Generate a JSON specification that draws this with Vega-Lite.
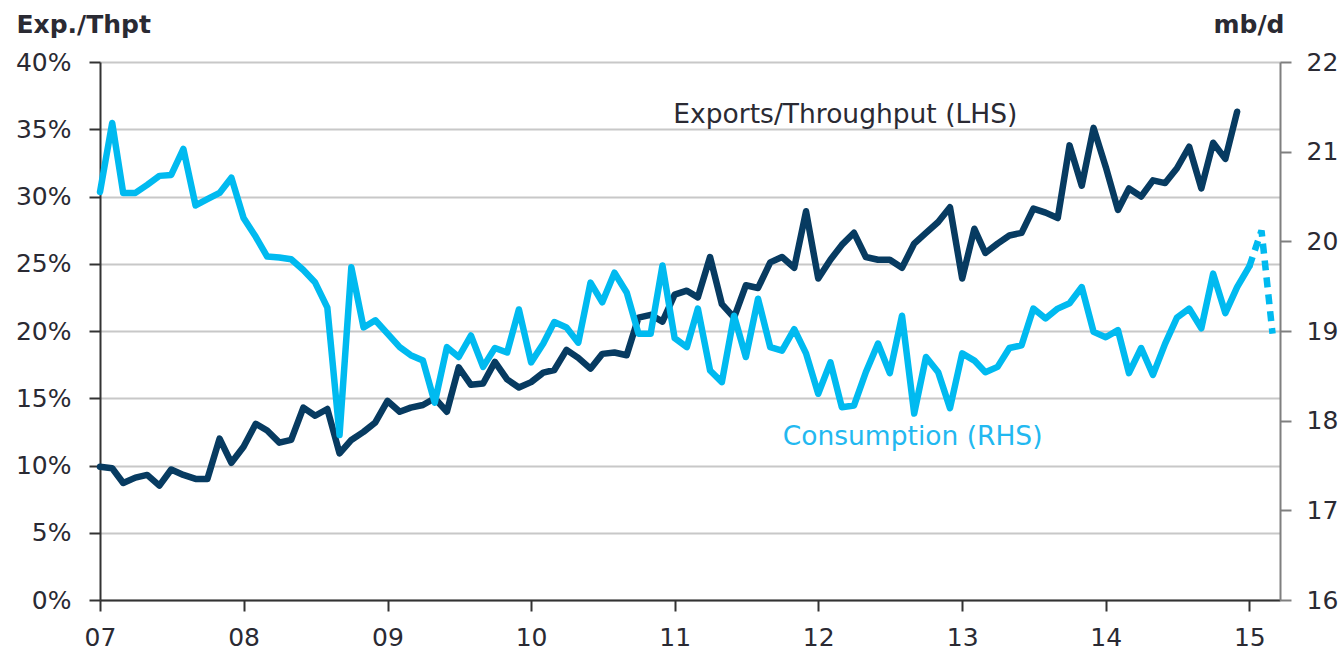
{
  "$schema": "https://vega.github.io/schema/vega-lite/v6.json",
  "width": 1180,
  "height": 538,
  "autosize": "none",
  "padding": {"left": 100, "top": 62, "right": 64, "bottom": 56},
  "background": "white",
  "config": {
    "view": {"stroke": null},
    "font": "DejaVu Sans",
    "axis": {"labelFont": "DejaVu Sans", "titleFont": "DejaVu Sans", "labelFontSize": 25, "labelColor": "#2a2a33", "titleColor": "#2a2a33"}
  },
  "datasets": {
    "exports": [
      {"date": "2007-01-01", "v": 0.099}, {"date": "2007-02-01", "v": 0.098}, {"date": "2007-03-01", "v": 0.087}, {"date": "2007-04-01", "v": 0.091},
      {"date": "2007-05-01", "v": 0.093}, {"date": "2007-06-01", "v": 0.085}, {"date": "2007-07-01", "v": 0.097}, {"date": "2007-08-01", "v": 0.093},
      {"date": "2007-09-01", "v": 0.090}, {"date": "2007-10-01", "v": 0.090}, {"date": "2007-11-01", "v": 0.120}, {"date": "2007-12-01", "v": 0.102},
      {"date": "2008-01-01", "v": 0.114}, {"date": "2008-02-01", "v": 0.131}, {"date": "2008-03-01", "v": 0.126}, {"date": "2008-04-01", "v": 0.117},
      {"date": "2008-05-01", "v": 0.119}, {"date": "2008-06-01", "v": 0.143}, {"date": "2008-07-01", "v": 0.137}, {"date": "2008-08-01", "v": 0.142},
      {"date": "2008-09-01", "v": 0.109}, {"date": "2008-10-01", "v": 0.119}, {"date": "2008-11-01", "v": 0.125}, {"date": "2008-12-01", "v": 0.132},
      {"date": "2009-01-01", "v": 0.148}, {"date": "2009-02-01", "v": 0.140}, {"date": "2009-03-01", "v": 0.143}, {"date": "2009-04-01", "v": 0.145},
      {"date": "2009-05-01", "v": 0.150}, {"date": "2009-06-01", "v": 0.140}, {"date": "2009-07-01", "v": 0.173}, {"date": "2009-08-01", "v": 0.160},
      {"date": "2009-09-01", "v": 0.161}, {"date": "2009-10-01", "v": 0.177}, {"date": "2009-11-01", "v": 0.164}, {"date": "2009-12-01", "v": 0.158},
      {"date": "2010-01-01", "v": 0.162}, {"date": "2010-02-01", "v": 0.169}, {"date": "2010-03-01", "v": 0.171}, {"date": "2010-04-01", "v": 0.186},
      {"date": "2010-05-01", "v": 0.180}, {"date": "2010-06-01", "v": 0.172}, {"date": "2010-07-01", "v": 0.183}, {"date": "2010-08-01", "v": 0.184},
      {"date": "2010-09-01", "v": 0.182}, {"date": "2010-10-01", "v": 0.210}, {"date": "2010-11-01", "v": 0.212}, {"date": "2010-12-01", "v": 0.207},
      {"date": "2011-01-01", "v": 0.227}, {"date": "2011-02-01", "v": 0.230}, {"date": "2011-03-01", "v": 0.225}, {"date": "2011-04-01", "v": 0.255},
      {"date": "2011-05-01", "v": 0.220}, {"date": "2011-06-01", "v": 0.210}, {"date": "2011-07-01", "v": 0.234}, {"date": "2011-08-01", "v": 0.232},
      {"date": "2011-09-01", "v": 0.251}, {"date": "2011-10-01", "v": 0.255}, {"date": "2011-11-01", "v": 0.247}, {"date": "2011-12-01", "v": 0.289},
      {"date": "2012-01-01", "v": 0.239}, {"date": "2012-02-01", "v": 0.253}, {"date": "2012-03-01", "v": 0.264}, {"date": "2012-04-01", "v": 0.273},
      {"date": "2012-05-01", "v": 0.255}, {"date": "2012-06-01", "v": 0.253}, {"date": "2012-07-01", "v": 0.253}, {"date": "2012-08-01", "v": 0.247},
      {"date": "2012-09-01", "v": 0.265}, {"date": "2012-10-01", "v": 0.273}, {"date": "2012-11-01", "v": 0.281}, {"date": "2012-12-01", "v": 0.292},
      {"date": "2013-01-01", "v": 0.239}, {"date": "2013-02-01", "v": 0.276}, {"date": "2013-03-01", "v": 0.258}, {"date": "2013-04-01", "v": 0.265},
      {"date": "2013-05-01", "v": 0.271}, {"date": "2013-06-01", "v": 0.273}, {"date": "2013-07-01", "v": 0.291}, {"date": "2013-08-01", "v": 0.288},
      {"date": "2013-09-01", "v": 0.284}, {"date": "2013-10-01", "v": 0.338}, {"date": "2013-11-01", "v": 0.308}, {"date": "2013-12-01", "v": 0.351},
      {"date": "2014-01-01", "v": 0.322}, {"date": "2014-02-01", "v": 0.290}, {"date": "2014-03-01", "v": 0.306}, {"date": "2014-04-01", "v": 0.300},
      {"date": "2014-05-01", "v": 0.312}, {"date": "2014-06-01", "v": 0.310}, {"date": "2014-07-01", "v": 0.321}, {"date": "2014-08-01", "v": 0.337},
      {"date": "2014-09-01", "v": 0.306}, {"date": "2014-10-01", "v": 0.340}, {"date": "2014-11-01", "v": 0.328}, {"date": "2014-12-01", "v": 0.363}
    ],
    "cons": [
      {"date": "2007-01-01", "c": 20.55, "seg": "a"}, {"date": "2007-02-01", "c": 21.32, "seg": "a"}, {"date": "2007-03-01", "c": 20.54, "seg": "a"}, {"date": "2007-04-01", "c": 20.54, "seg": "a"},
      {"date": "2007-05-01", "c": 20.63, "seg": "a"}, {"date": "2007-06-01", "c": 20.73, "seg": "a"}, {"date": "2007-07-01", "c": 20.74, "seg": "a"}, {"date": "2007-08-01", "c": 21.03, "seg": "a"},
      {"date": "2007-09-01", "c": 20.40, "seg": "a"}, {"date": "2007-10-01", "c": 20.47, "seg": "a"}, {"date": "2007-11-01", "c": 20.54, "seg": "a"}, {"date": "2007-12-01", "c": 20.71, "seg": "a"},
      {"date": "2008-01-01", "c": 20.26, "seg": "a"}, {"date": "2008-02-01", "c": 20.05, "seg": "a"}, {"date": "2008-03-01", "c": 19.83, "seg": "a"}, {"date": "2008-04-01", "c": 19.82, "seg": "a"},
      {"date": "2008-05-01", "c": 19.80, "seg": "a"}, {"date": "2008-06-01", "c": 19.68, "seg": "a"}, {"date": "2008-07-01", "c": 19.54, "seg": "a"}, {"date": "2008-08-01", "c": 19.26, "seg": "a"},
      {"date": "2008-09-01", "c": 17.84, "seg": "a"}, {"date": "2008-10-01", "c": 19.71, "seg": "a"}, {"date": "2008-11-01", "c": 19.04, "seg": "a"}, {"date": "2008-12-01", "c": 19.12, "seg": "a"},
      {"date": "2009-01-01", "c": 18.97, "seg": "a"}, {"date": "2009-02-01", "c": 18.82, "seg": "a"}, {"date": "2009-03-01", "c": 18.73, "seg": "a"}, {"date": "2009-04-01", "c": 18.67, "seg": "a"},
      {"date": "2009-05-01", "c": 18.20, "seg": "a"}, {"date": "2009-06-01", "c": 18.82, "seg": "a"}, {"date": "2009-07-01", "c": 18.71, "seg": "a"}, {"date": "2009-08-01", "c": 18.95, "seg": "a"},
      {"date": "2009-09-01", "c": 18.60, "seg": "a"}, {"date": "2009-10-01", "c": 18.81, "seg": "a"}, {"date": "2009-11-01", "c": 18.76, "seg": "a"}, {"date": "2009-12-01", "c": 19.24, "seg": "a"},
      {"date": "2010-01-01", "c": 18.65, "seg": "a"}, {"date": "2010-02-01", "c": 18.86, "seg": "a"}, {"date": "2010-03-01", "c": 19.10, "seg": "a"}, {"date": "2010-04-01", "c": 19.04, "seg": "a"},
      {"date": "2010-05-01", "c": 18.87, "seg": "a"}, {"date": "2010-06-01", "c": 19.54, "seg": "a"}, {"date": "2010-07-01", "c": 19.32, "seg": "a"}, {"date": "2010-08-01", "c": 19.65, "seg": "a"},
      {"date": "2010-09-01", "c": 19.43, "seg": "a"}, {"date": "2010-10-01", "c": 18.97, "seg": "a"}, {"date": "2010-11-01", "c": 18.97, "seg": "a"}, {"date": "2010-12-01", "c": 19.73, "seg": "a"},
      {"date": "2011-01-01", "c": 18.92, "seg": "a"}, {"date": "2011-02-01", "c": 18.82, "seg": "a"}, {"date": "2011-03-01", "c": 19.25, "seg": "a"}, {"date": "2011-04-01", "c": 18.56, "seg": "a"},
      {"date": "2011-05-01", "c": 18.43, "seg": "a"}, {"date": "2011-06-01", "c": 19.17, "seg": "a"}, {"date": "2011-07-01", "c": 18.71, "seg": "a"}, {"date": "2011-08-01", "c": 19.36, "seg": "a"},
      {"date": "2011-09-01", "c": 18.82, "seg": "a"}, {"date": "2011-10-01", "c": 18.78, "seg": "a"}, {"date": "2011-11-01", "c": 19.02, "seg": "a"}, {"date": "2011-12-01", "c": 18.75, "seg": "a"},
      {"date": "2012-01-01", "c": 18.30, "seg": "a"}, {"date": "2012-02-01", "c": 18.65, "seg": "a"}, {"date": "2012-03-01", "c": 18.15, "seg": "a"}, {"date": "2012-04-01", "c": 18.17, "seg": "a"},
      {"date": "2012-05-01", "c": 18.54, "seg": "a"}, {"date": "2012-06-01", "c": 18.86, "seg": "a"}, {"date": "2012-07-01", "c": 18.53, "seg": "a"}, {"date": "2012-08-01", "c": 19.17, "seg": "a"},
      {"date": "2012-09-01", "c": 18.08, "seg": "a"}, {"date": "2012-10-01", "c": 18.71, "seg": "a"}, {"date": "2012-11-01", "c": 18.54, "seg": "a"}, {"date": "2012-12-01", "c": 18.14, "seg": "a"},
      {"date": "2013-01-01", "c": 18.75, "seg": "a"}, {"date": "2013-02-01", "c": 18.67, "seg": "a"}, {"date": "2013-03-01", "c": 18.54, "seg": "a"}, {"date": "2013-04-01", "c": 18.60, "seg": "a"},
      {"date": "2013-05-01", "c": 18.81, "seg": "a"}, {"date": "2013-06-01", "c": 18.84, "seg": "a"}, {"date": "2013-07-01", "c": 19.25, "seg": "a"}, {"date": "2013-08-01", "c": 19.14, "seg": "a"},
      {"date": "2013-09-01", "c": 19.25, "seg": "a"}, {"date": "2013-10-01", "c": 19.31, "seg": "a"}, {"date": "2013-11-01", "c": 19.49, "seg": "a"}, {"date": "2013-12-01", "c": 18.99, "seg": "a"},
      {"date": "2014-01-01", "c": 18.93, "seg": "a"}, {"date": "2014-02-01", "c": 19.01, "seg": "a"}, {"date": "2014-03-01", "c": 18.53, "seg": "a"}, {"date": "2014-04-01", "c": 18.81, "seg": "a"},
      {"date": "2014-05-01", "c": 18.51, "seg": "a"}, {"date": "2014-06-01", "c": 18.86, "seg": "a"}, {"date": "2014-07-01", "c": 19.15, "seg": "a"}, {"date": "2014-08-01", "c": 19.25, "seg": "a"},
      {"date": "2014-09-01", "c": 19.03, "seg": "a"}, {"date": "2014-10-01", "c": 19.64, "seg": "a"}, {"date": "2014-11-01", "c": 19.20, "seg": "a"}, {"date": "2014-12-01", "c": 19.49, "seg": "a"},
      {"date": "2015-01-01", "c": 19.72, "seg": "a"},
      {"date": "2015-01-01", "c": 19.72, "seg": "p"}, {"date": "2015-02-01", "c": 20.12, "seg": "p"}, {"date": "2015-03-01", "c": 18.97, "seg": "p"}
    ],
    "labels": [
      {"date": "2012-03-10", "v": 0.3605, "text": "Exports/Throughput (LHS)", "series": "exp"},
      {"date": "2012-08-28", "v": 0.1209, "text": "Consumption (RHS)", "series": "cons"}
    ]
  },
  "encoding": {
    "x": {
      "field": "date",
      "type": "temporal",
      "scale": {"type": "utc", "domain": [{"year": 2007, "month": 1, "date": 1, "utc": true}, {"year": 2015, "month": 3, "date": 20, "utc": true}]},
      "axis": {
        "title": null,
        "values": [
          {"year": 2007, "month": 1, "date": 1, "utc": true}, {"year": 2008, "month": 1, "date": 1, "utc": true},
          {"year": 2009, "month": 1, "date": 1, "utc": true}, {"year": 2010, "month": 1, "date": 1, "utc": true},
          {"year": 2011, "month": 1, "date": 1, "utc": true}, {"year": 2012, "month": 1, "date": 1, "utc": true},
          {"year": 2013, "month": 1, "date": 1, "utc": true}, {"year": 2014, "month": 1, "date": 1, "utc": true},
          {"year": 2015, "month": 1, "date": 1, "utc": true}
        ],
        "labelExpr": "utcFormat(datum.value, '%y')",
        "grid": false,
        "domainColor": "#333333",
        "domainWidth": 2,
        "tickColor": "#333333",
        "tickWidth": 2,
        "tickSize": 11,
        "labelPadding": 14,
        "labelFlush": false,
        "labelOverlap": false
      }
    }
  },
  "layer": [
    {
      "encoding": {
        "y": {
          "field": "v",
          "type": "quantitative",
          "scale": {"domain": [0, 0.4], "nice": false, "zero": false},
          "axis": {
            "orient": "left",
            "values": [0, 0.05, 0.1, 0.15, 0.2, 0.25, 0.3, 0.35, 0.4],
            "format": ".0%",
            "grid": true,
            "gridColor": "#c8c8c8",
            "gridWidth": 2,
            "domainColor": "#333333",
            "domainWidth": 2,
            "tickColor": "#333333",
            "tickWidth": 2,
            "tickSize": 11,
            "labelPadding": 18,
            "title": "Exp./Thpt",
            "titleAngle": 0,
            "titleX": -84,
            "titleY": -30,
            "titleAlign": "left",
            "titleBaseline": "alphabetic",
            "titleFontSize": 25,
            "titleFontWeight": 600
          }
        }
      },
      "layer": [
        {
          "data": {"name": "exports"},
          "mark": {"type": "line", "color": "#073b61", "strokeWidth": 6.5, "strokeJoin": "round", "strokeCap": "round"}
        },
        {
          "data": {"name": "labels"},
          "mark": {"type": "text", "fontSize": 26.5, "font": "DejaVu Sans", "align": "center", "baseline": "middle"},
          "encoding": {
            "text": {"field": "text"},
            "color": {"field": "series", "type": "nominal", "scale": {"domain": ["exp", "cons"], "range": ["#2a2a33", "#22b8f0"]}, "legend": null}
          }
        }
      ]
    },
    {
      "data": {"name": "cons"},
      "encoding": {
        "y": {
          "field": "c",
          "type": "quantitative",
          "scale": {"domain": [16, 22], "nice": false, "zero": false},
          "axis": {
            "orient": "right",
            "values": [16, 17, 18, 19, 20, 21, 22],
            "grid": false,
            "domainColor": "#7f7f7f",
            "domainWidth": 2,
            "tickColor": "#7f7f7f",
            "tickWidth": 2,
            "tickSize": 11,
            "labelPadding": 15,
            "title": "mb/d",
            "titleAngle": 0,
            "titleX": 4,
            "titleY": -30,
            "titleAlign": "right",
            "titleBaseline": "alphabetic",
            "titleFontSize": 25,
            "titleFontWeight": 600
          }
        }
      },
      "layer": [
        {
          "transform": [{"filter": "datum.seg === 'a'"}],
          "mark": {"type": "line", "color": "#00baf0", "strokeWidth": 6.5, "strokeJoin": "round", "strokeCap": "round"}
        },
        {
          "transform": [{"filter": "datum.seg === 'p'"}],
          "mark": {"type": "line", "color": "#00baf0", "strokeWidth": 6.5, "strokeDash": [10, 7]}
        }
      ]
    }
  ],
  "resolve": {"scale": {"y": "independent", "color": "independent"}}
}
